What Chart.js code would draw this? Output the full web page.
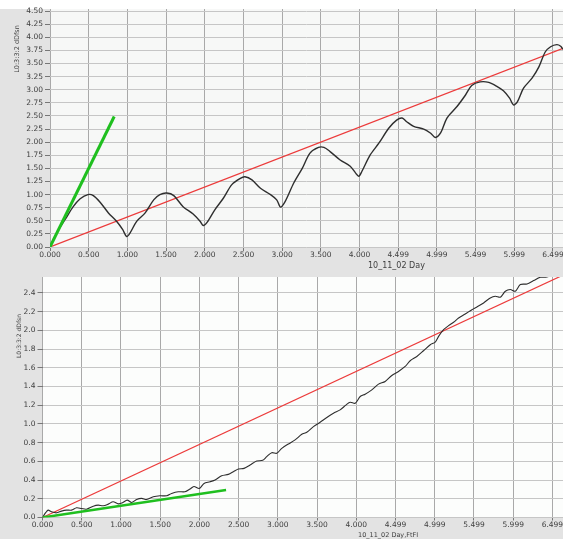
<!DOCTYPE html>
<html>
<head>
<meta charset="utf-8">
<script src="https://cdn.jsdelivr.net/npm/chart.js@4.4.1/dist/chart.umd.min.js"></script>
<style>
  html, body { margin: 0; padding: 0; background: #ffffff; }
  canvas { display: block; }
</style>
</head>
<body>
<canvas id="upper" width="563" height="275" style="width:563px;height:275px"></canvas>
<canvas id="lower" width="563" height="264" style="width:563px;height:264px"></canvas>
<script>
// ---- x axis ticks (shared by both panels) ----
const xTickValues = [0, 0.5, 1, 1.5, 2, 2.5, 3, 3.5, 4, 4.5, 5, 5.5, 6, 6.5];
const xTickLabels = ["0.000", "0.500", "1.000", "1.500", "2.000", "2.500", "3.000",
                     "3.500", "4.000", "4.499", "4.999", "5.499", "5.999", "6.499"];

// ---- upper panel: dDfsn vs Day ----
const upperYTicks = [0, 0.25, 0.5, 0.75, 1, 1.25, 1.5, 1.75, 2, 2.25, 2.5, 2.75,
                     3, 3.25, 3.5, 3.75, 4, 4.25, 4.5];
const upperDay = [0, 0.086, 0.194, 0.30, 0.39, 0.49, 0.56, 0.65, 0.755, 0.86,
                  0.94, 0.99, 1.035, 1.12, 1.23, 1.34, 1.42, 1.51, 1.60, 1.72,
                  1.85, 1.94, 1.98, 2.03, 2.13, 2.24, 2.35, 2.46, 2.52, 2.61,
                  2.72, 2.85, 2.93, 2.98, 3.04, 3.15, 3.26, 3.36, 3.47, 3.54,
                  3.62, 3.75, 3.88, 3.95, 3.99, 4.03, 4.14, 4.25, 4.38, 4.48,
                  4.55, 4.61, 4.70, 4.83, 4.92, 4.98, 5.05, 5.13, 5.26, 5.37,
                  5.45, 5.56, 5.67, 5.78, 5.86, 5.94, 5.99, 6.04, 6.12, 6.23,
                  6.32, 6.40, 6.47, 6.55, 6.60, 6.63];
const upperDfsn = [0, 0.27, 0.52, 0.77, 0.92, 1.0, 0.98, 0.85, 0.65, 0.49,
                   0.33, 0.20, 0.27, 0.49, 0.65, 0.90, 1.0, 1.03, 0.98, 0.77,
                   0.63, 0.49, 0.41, 0.47, 0.71, 0.93, 1.19, 1.31, 1.34, 1.28,
                   1.12, 1.0, 0.90, 0.76, 0.87, 1.22, 1.50, 1.79, 1.90, 1.90,
                   1.82, 1.66, 1.54, 1.41, 1.35, 1.44, 1.76, 1.98, 2.27, 2.42,
                   2.46, 2.39, 2.30, 2.25, 2.17, 2.09, 2.18, 2.46, 2.68, 2.90,
                   3.08, 3.15, 3.14, 3.06, 2.98, 2.84, 2.71, 2.77, 3.03, 3.22,
                   3.44, 3.72, 3.82, 3.86, 3.83, 3.77];
const upperTrendDay = [0, 6.63];
const upperTrend = [0, 3.79];
const upperSlopeDay = [0, 0.83];
const upperSlope = [0, 2.49];

// ---- lower panel: dDfsn vs Day,FtFI ----
const lowerYTicks = [0, 0.2, 0.4, 0.6, 0.8, 1.0, 1.2, 1.4, 1.6, 1.8, 2.0, 2.2, 2.4];
const lowerDay = [0, 0.043, 0.072, 0.115, 0.179, 0.242, 0.306, 0.37, 0.434, 0.498,
                  0.56, 0.647, 0.71, 0.774, 0.838, 0.90, 0.966, 1.02, 1.08, 1.136,
                  1.2, 1.263, 1.327, 1.412, 1.497, 1.582, 1.646, 1.731, 1.816, 1.88,
                  1.93, 1.999, 2.059, 2.135, 2.2, 2.284, 2.369, 2.433, 2.497, 2.569,
                  2.646, 2.731, 2.807, 2.858, 2.922, 2.986, 3.05, 3.135, 3.22, 3.305,
                  3.369, 3.454, 3.539, 3.624, 3.709, 3.794, 3.871, 3.922, 3.986, 4.05,
                  4.113, 4.198, 4.283, 4.368, 4.453, 4.538, 4.623, 4.687, 4.772, 4.857,
                  4.943, 5.006, 5.049, 5.113, 5.176, 5.24, 5.304, 5.389, 5.474, 5.538,
                  5.623, 5.708, 5.772, 5.836, 5.9, 5.963, 6.027, 6.091, 6.176, 6.261,
                  6.346, 6.431, 6.495];
const lowerDfsn = [0, 0.054, 0.079, 0.061, 0.05, 0.068, 0.079, 0.079, 0.104, 0.096,
                   0.089, 0.121, 0.132, 0.125, 0.143, 0.168, 0.146, 0.157, 0.186, 0.161,
                   0.193, 0.204, 0.193, 0.221, 0.232, 0.232, 0.257, 0.275, 0.275, 0.304,
                   0.332, 0.311, 0.364, 0.382, 0.4, 0.446, 0.461, 0.489, 0.518, 0.525,
                   0.561, 0.604, 0.611, 0.65, 0.693, 0.686, 0.739, 0.786, 0.829, 0.889,
                   0.911, 0.971, 1.018, 1.068, 1.114, 1.15, 1.204, 1.232, 1.221, 1.293,
                   1.318, 1.364, 1.425, 1.454, 1.518, 1.561, 1.614, 1.675, 1.721, 1.782,
                   1.846, 1.875, 1.936, 2.007, 2.05, 2.086, 2.132, 2.175, 2.221, 2.25,
                   2.293, 2.346, 2.364, 2.354, 2.418, 2.436, 2.418, 2.489, 2.496, 2.532,
                   2.568, 2.571, 2.589];
const lowerTrendDay = [0, 6.635];
const lowerTrend = [0, 2.59];
const lowerSlopeDay = [0, 2.34];
const lowerSlope = [0, 0.293];

const Y_TITLE = "L0:3:3:2 dDfsn";
const PANEL_GREY = "#e3e3e3";
const TEXT = "#404040";
const FONT = "DejaVu Sans";
const TICK_SIZE = 7.5;

function points(xs, ys) {
  return xs.map((x, i) => ({ x: x, y: ys[i] }));
}

// Grey frame, plot background and the axis titles.
function framePlugin(cfg) {
  return {
    id: "frame",
    beforeDraw(chart) {
      const { ctx, chartArea: a, width, height } = chart;
      ctx.save();
      ctx.fillStyle = PANEL_GREY;
      ctx.fillRect(0, 0, width, height);
      if (cfg.whiteTop) {
        ctx.fillStyle = "#ffffff";
        ctx.fillRect(0, 0, width, cfg.whiteTop);
      }
      ctx.fillStyle = cfg.plotBg;
      ctx.fillRect(a.left, a.top, a.right - a.left, a.bottom - a.top);
      ctx.restore();
    },
    afterDraw(chart) {
      const ctx = chart.ctx;
      ctx.save();
      ctx.fillStyle = TEXT;
      ctx.textBaseline = "middle";
      ctx.textAlign = "left";
      ctx.font = cfg.xTitleSize + "px '" + FONT + "'";
      ctx.fillText(cfg.xTitle, cfg.xTitleX, cfg.xTitleY);
      ctx.translate(cfg.yTitleX, cfg.yTitleY);
      ctx.rotate(-Math.PI / 2);
      ctx.textAlign = "center";
      ctx.font = cfg.yTitleSize + "px '" + FONT + "'";
      ctx.fillText(Y_TITLE, 0, 0);
      ctx.restore();
    }
  };
}

function makeChart(id, opt) {
  return new Chart(document.getElementById(id), {
    type: "scatter",
    data: {
      datasets: [
        {
          data: points(opt.slopeX, opt.slopeY),
          showLine: true, borderColor: "#1fbf1f", borderWidth: opt.slopeWidth,
          pointRadius: 0, order: 0
        },
        {
          data: points(opt.curveX, opt.curveY),
          showLine: true, borderColor: "#2e2e2e", borderWidth: opt.curveWidth,
          pointRadius: 0, tension: 0.3, order: 1
        },
        {
          data: points(opt.trendX, opt.trendY),
          showLine: true, borderColor: "#ec3b3b", borderWidth: 1.2,
          pointRadius: 0, order: 2
        }
      ]
    },
    options: {
      responsive: false,
      animation: false,
      devicePixelRatio: 1,
      layout: { padding: { top: opt.padTop, left: 0, right: 0, bottom: 0 } },
      plugins: { legend: { display: false }, tooltip: { enabled: false } },
      scales: {
        x: {
          type: "linear", min: 0, max: opt.xMax,
          afterBuildTicks: s => { s.ticks = xTickValues.map(v => ({ value: v })); },
          afterFit: s => { s.height = opt.xAxisHeight; s.paddingLeft = 0; s.paddingRight = 0; },
          ticks: {
            autoSkip: false, maxRotation: 0, minRotation: 0, padding: 0,
            color: TEXT, font: { family: FONT, size: TICK_SIZE },
            callback: (v, i) => xTickLabels[i]
          },
          grid: { color: "#a9a9a9", lineWidth: 1, tickColor: "#777", tickLength: opt.xTickLen },
          border: { display: false }
        },
        y: {
          type: "linear", min: 0, max: opt.yMax,
          afterBuildTicks: s => { s.ticks = opt.yTicks.map(v => ({ value: v })); },
          afterFit: s => { s.width = opt.yAxisWidth; s.paddingTop = 0; s.paddingBottom = 0; },
          ticks: {
            padding: 2, color: TEXT, font: { family: FONT, size: TICK_SIZE },
            callback: v => v.toFixed(opt.yDigits)
          },
          grid: { color: "#c6c6c6", lineWidth: 1, tickColor: "#777", tickLength: 5 },
          border: { display: false }
        }
      }
    },
    plugins: [framePlugin(opt.frame)]
  });
}

makeChart("upper", {
  curveX: upperDay, curveY: upperDfsn,
  trendX: upperTrendDay, trendY: upperTrend,
  slopeX: upperSlopeDay, slopeY: upperSlope,
  slopeWidth: 3, curveWidth: 1.4,
  xMax: 6.63, yMax: 4.54, yTicks: upperYTicks, yDigits: 2,
  padTop: 9, xAxisHeight: 28, yAxisWidth: 50, xTickLen: 4,
  frame: {
    whiteTop: 9, plotBg: "#f7f8f7",
    xTitle: "10_11_02 Day", xTitleX: 368, xTitleY: 266, xTitleSize: 8,
    yTitleX: 17.5, yTitleY: 49, yTitleSize: 6.5
  }
});

makeChart("lower", {
  curveX: lowerDay, curveY: lowerDfsn,
  trendX: lowerTrendDay, trendY: lowerTrend,
  slopeX: lowerSlopeDay, slopeY: lowerSlope,
  slopeWidth: 2.5, curveWidth: 1.1,
  xMax: 6.635, yMax: 2.57, yTicks: lowerYTicks, yDigits: 1,
  padTop: 2, xAxisHeight: 21.5, yAxisWidth: 42.5, xTickLen: 3,
  frame: {
    whiteTop: 0, plotBg: "#fcfdfc",
    xTitle: "10_11_02 Day,FtFI", xTitleX: 358, xTitleY: 260, xTitleSize: 6.5,
    yTitleX: 19.5, yTitleY: 61, yTitleSize: 6
  }
});
</script>
</body>
</html>
